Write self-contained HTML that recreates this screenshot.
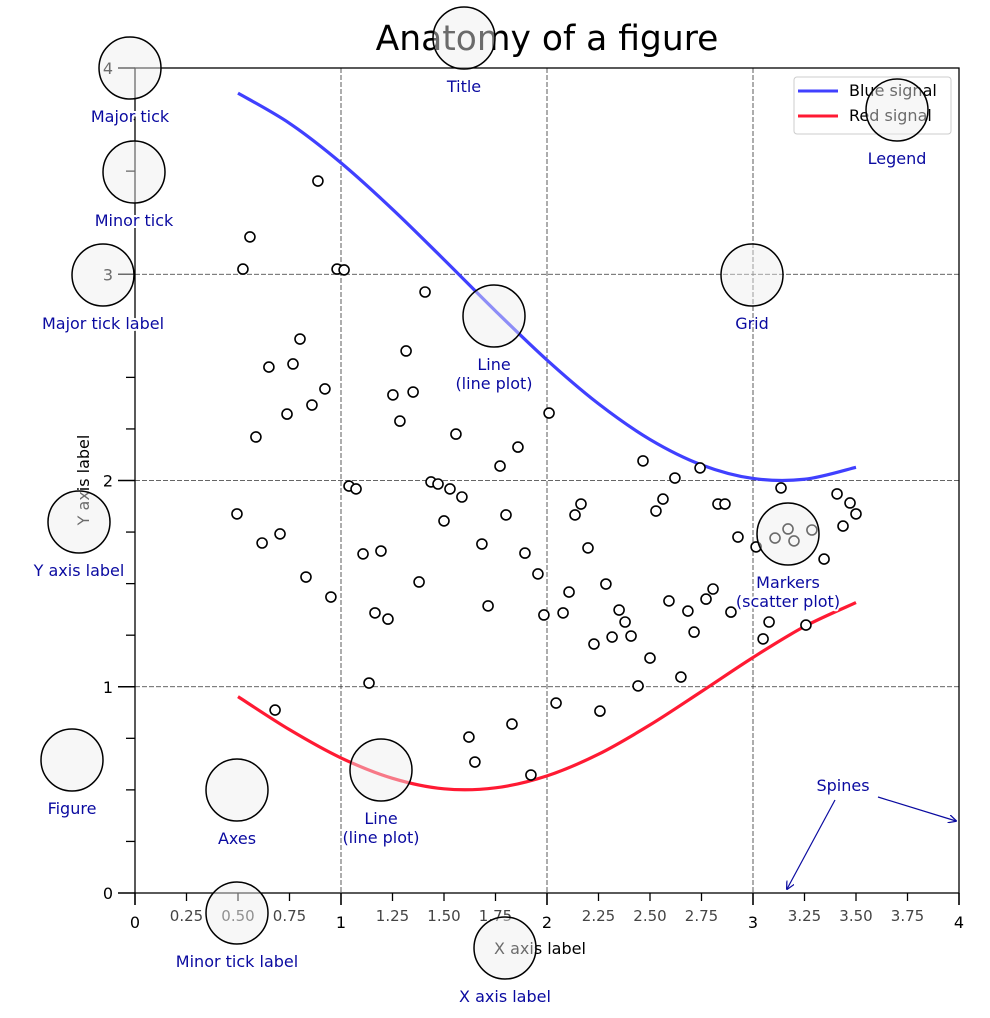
<!DOCTYPE html>
<html><head><meta charset="utf-8"><style>
html,body{margin:0;padding:0;background:#fff;}
svg{display:block;font-family:"DejaVu Sans","Liberation Sans",sans-serif;}
.ann{fill:#0a0aa0;font-size:16px;text-anchor:middle;paint-order:stroke;stroke:#fff;stroke-width:4px;stroke-linejoin:round;}
</style></head><body>
<svg id="chart" width="990" height="1018" viewBox="0 0 990 1018" xmlns="http://www.w3.org/2000/svg">
<g id="grid"></g>
<g id="series"></g>
<g id="axes"></g>
<text x="547" y="50" font-size="34.5" text-anchor="middle">Anatomy of a figure</text>
<text x="540" y="954" font-size="16" text-anchor="middle">X axis label</text>
<text x="0" y="0" font-size="16" text-anchor="middle" transform="translate(89,480) rotate(-90)">Y axis label</text>
<g>
<rect x="794" y="77" width="157" height="57" rx="3" fill="#fff" stroke="#ccc"/>
<line x1="798" y1="91" x2="838" y2="91" stroke="#4040ff" stroke-width="3"/>
<text x="849" y="96" font-size="16">Blue signal</text>
<line x1="798" y1="116" x2="838" y2="116" stroke="#ff1a33" stroke-width="3"/>
<text x="849" y="121" font-size="16">Red signal</text>
</g>
<g id="circles"></g>
<g>
<defs><marker id="ah" viewBox="0 0 10 10" refX="9" refY="5" markerWidth="7" markerHeight="7" orient="auto"><path d="M0,0 L10,5 L0,10" fill="none" stroke="#0a0aa0" stroke-width="1.5"/></marker></defs>
<line x1="835" y1="800" x2="787" y2="889" stroke="#0a0aa0" stroke-width="1.2" marker-end="url(#ah)"/>
<line x1="878" y1="797" x2="956" y2="821" stroke="#0a0aa0" stroke-width="1.2" marker-end="url(#ah)"/>
<text class="ann" x="843" y="791">Spines</text>
</g>
</svg>
<script>
const xTicks=[0,1,2,3,4];
const yTicks=[0,1,2,3,4];
const minorStep=0.25;
const lineX=[0.5,0.75,1.0,1.25,1.5,1.75,2.0,2.25,2.5,2.75,3.0,3.25,3.5];
const blueY=[3.878,3.732,3.540,3.315,3.071,2.822,2.584,2.372,2.199,2.076,2.010,2.006,2.064];
const redY=[0.952,0.792,0.655,0.556,0.505,0.510,0.568,0.673,0.815,0.977,1.142,1.292,1.408];
const scatterX=[0.888,0.558,0.524,0.981,1.015,1.408,0.801,0.650,0.767,1.316,0.738,0.922,0.859,1.252,1.350,1.286,0.587,1.558,2.010,1.859,1.772,2.466,2.621,2.743,1.039,1.073,1.437,1.471,1.529,1.587,0.495,1.500,1.801,2.165,2.136,2.563,2.529,2.830,2.864,3.136,3.408,3.471,3.500,3.437,0.704,0.617,1.684,1.107,1.194,1.893,2.199,2.927,3.015,3.107,3.170,3.199,3.286,3.345,0.830,1.956,1.379,2.286,2.107,2.806,2.772,0.951,2.592,1.714,1.165,1.228,1.985,2.078,2.350,2.379,2.893,2.684,2.714,2.316,2.408,2.228,3.049,3.257,3.078,2.500,2.650,2.442,1.136,0.680,2.044,2.257,1.830,1.621,1.650,1.922];
const scatterY=[3.452,3.181,3.025,3.025,3.021,2.914,2.686,2.550,2.565,2.628,2.322,2.444,2.366,2.415,2.429,2.288,2.211,2.225,2.327,2.162,2.070,2.095,2.012,2.061,1.973,1.959,1.993,1.983,1.959,1.920,1.838,1.804,1.833,1.886,1.833,1.910,1.852,1.886,1.886,1.964,1.935,1.891,1.838,1.779,1.741,1.697,1.692,1.644,1.658,1.648,1.673,1.726,1.678,1.721,1.765,1.707,1.760,1.619,1.532,1.547,1.508,1.498,1.459,1.474,1.425,1.435,1.416,1.392,1.358,1.328,1.348,1.358,1.372,1.314,1.362,1.367,1.265,1.241,1.246,1.207,1.232,1.299,1.314,1.139,1.047,1.004,1.018,0.887,0.921,0.882,0.819,0.756,0.635,0.572];
const annLabels=["Major tick","Title","Legend","Minor tick","Major tick label","Grid","Line\n(line plot)","Y axis label","Markers\n(scatter plot)","Figure","Axes","Line\n(line plot)","Minor tick label","X axis label"];

const NS="http://www.w3.org/2000/svg";
const X0=135,X1=959,Y0=893,Y1=68;
const sx=v=>X0+(v-0)/(4-0)*(X1-X0);
const sy=v=>Y0-(v-0)/(4-0)*(Y0-Y1);
function mk(tag,attrs,parent){const e=document.createElementNS(NS,tag);for(const k in attrs)e.setAttribute(k,attrs[k]);parent.appendChild(e);return e;}
const grid=document.getElementById('grid'),axes=document.getElementById('axes'),series=document.getElementById('series'),circ=document.getElementById('circles');

xTicks.slice(1,-1).forEach(v=>{const l=mk('line',{x1:sx(v),x2:sx(v),y1:Y1,y2:Y0,stroke:'#333','stroke-width':0.8,'stroke-dasharray':'5 2'},grid);

});
yTicks.slice(1,-1).forEach(v=>{const l=mk('line',{x1:X0,x2:X1,y1:sy(v),y2:sy(v),stroke:'#333','stroke-width':0.8,'stroke-dasharray':'5 2'},grid);

});

function path(xs,ys){let d='';const p=xs.map((x,i)=>[sx(x),sy(ys[i])]);
d='M'+p[0][0]+','+p[0][1];
for(let i=0;i<p.length-1;i++){const a=p[Math.max(0,i-1)],b=p[i],c=p[i+1],e=p[Math.min(p.length-1,i+2)];
d+=' C'+(b[0]+(c[0]-a[0])/6)+','+(b[1]+(c[1]-a[1])/6)+' '+(c[0]-(e[0]-b[0])/6)+','+(c[1]-(e[1]-b[1])/6)+' '+c[0]+','+c[1];}
return d;}
const bl=mk('path',{d:path(lineX,blueY),fill:'none',stroke:'#4040ff','stroke-width':3.2},series);


const rl=mk('path',{d:path(lineX,redY),fill:'none',stroke:'#ff1a33','stroke-width':3.2},series);


scatterX.forEach((x,i)=>{const c=mk('circle',{cx:sx(x),cy:sy(scatterY[i]),r:5,fill:'#fff',stroke:'#000','stroke-width':1.6},series);

});

const fr=mk('rect',{x:X0,y:Y1,width:X1-X0,height:Y0-Y1,fill:'none',stroke:'#000','stroke-width':1.3},axes);


for(let v=0;v<=4.0001;v+=minorStep){
 const major=Math.abs(v-Math.round(v))<1e-6;
 const t1=mk('line',{x1:sx(v),x2:sx(v),y1:Y0,y2:Y0+(major?12:8),stroke:'#000','stroke-width':major?1.6:1.3},axes);
 
 
 const t2=mk('line',{x1:X0,x2:X0-(major?17:9),y1:sy(v),y2:sy(v),stroke:'#000','stroke-width':major?1.6:1.3},axes);
 
 
 if(major){
  const lx=mk('text',{x:sx(v),y:Y0+35,'font-size':16,'text-anchor':'middle'},axes);lx.textContent=String(Math.round(v));
  
  
  const ly=mk('text',{x:X0-22,y:sy(v)+6,'font-size':16,'text-anchor':'end'},axes);ly.textContent=String(Math.round(v));
  
  
 } else {
  const lx=mk('text',{x:sx(v),y:Y0+28,'font-size':15,'text-anchor':'middle',fill:'#444'},axes);lx.textContent=v.toFixed(2);
  
  
 }
}

const cpos=[[130,68],[464,38],[897,110],[134,172],[103,275],[752,275],[494,316],[79,522],[788,534],[72,760],[237,790],[381,770],[237,913],[505,948]];
cpos.forEach((p,i)=>{
 const c=mk('circle',{cx:p[0],cy:p[1],r:31,fill:'#eeeeee','fill-opacity':0.45,stroke:'#000','stroke-width':1.5},circ);
 
 
 const t=mk('text',{class:'ann',x:p[0],y:p[1]+54},circ);
 
 
 annLabels[i].split('\n').forEach((s,j)=>{const ts=mk('tspan',{x:p[0],dy:j?19:0},t);ts.textContent=s;});
});
</script>
</body></html>
